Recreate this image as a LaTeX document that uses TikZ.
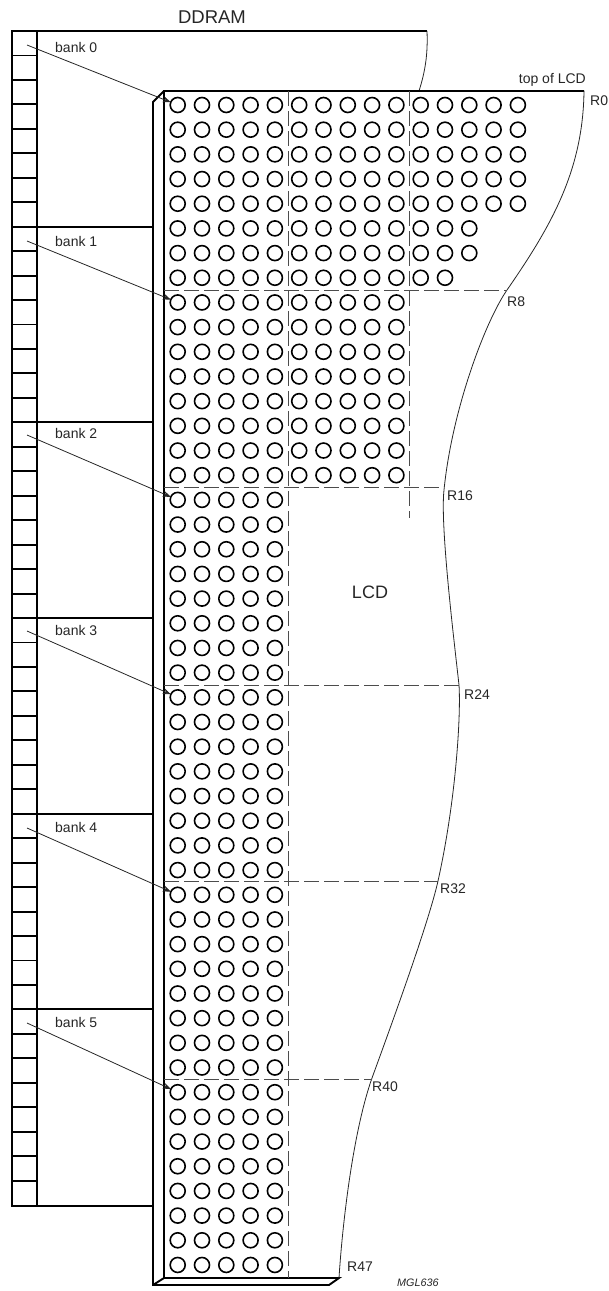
\documentclass[tikz,border=0pt]{standalone}
\usepackage{fontspec}
\usetikzlibrary{arrows.meta}
\setmainfont{Liberation Sans}
\tikzset{
  thickline/.style={line width=1.9pt},
  thinline/.style={line width=0.8pt, black!85},
  rowline/.style={line width=0.9pt, black!70, dash pattern=on 15pt off 5pt},
  dot/.style={circle, draw, line width=1.6pt, minimum size=15pt, inner sep=0pt, outer sep=0pt},
  lab/.style={font=\fontsize{14}{16}\selectfont, inner sep=0pt, text=black!85},
  banklink/.style={thinline, -{Stealth[length=8pt,width=6pt]}}
}
\begin{document}
\begin{tikzpicture}[
  x=1pt,
  y=-1pt
]
\useasboundingbox (0,0) rectangle (609,1291);

% DDRAM column
\draw[thickline] (427,31) -- (12,31) -- (12,1206) -- (153,1206);
\draw[thickline] (37,31) -- (37,1206);
\foreach \r in {1,...,47} {
  \draw[thickline] (12,{31+24.46*\r}) -- (37,{31+24.46*\r});
}
\foreach \r in {8,16,...,40} {
  \draw[thickline] (37,{31+24.46*\r}) -- (153,{31+24.46*\r});
}
\draw[thinline] (427,31) .. controls (428,55) and (425,72) .. (419,91);

% LCD frame
\draw[thickline] (584,91) -- (164,91) -- (164,1278) -- (339,1278) -- (329,1285) -- (153,1285) -- (153,102) -- (164,91);
\draw[thickline] (153,1285) -- (164,1278);
\draw[thinline] (584,91) .. controls (583,170) and (552,225) .. (507,290)
  .. controls (485,322) and (452,410) .. (444,490)
  .. controls (440,525) and (454,640) .. (459,685)
  .. controls (461,715) and (456,800) .. (438,881)
  .. controls (429,921) and (395,1015) .. (372,1078)
  .. controls (352,1135) and (342,1230) .. (339,1278);

% dots per group of rows
\foreach \first/\last/\n in {0/4/14,5/6/12,7/7/11,8/15/9,16/47/4} {
  \foreach \r in {\first,...,\last} {
    \foreach \c in {0,...,\n} {
      \node[dot] (d\r-\c) at ({177.7+24.3*\c},{105+24.68*\r}) {};
    }
  }
}

% dashed dividers
\coordinate (v1a) at (288,91);
\coordinate (v1b) at (288,1278);
\coordinate (v2a) at (409,91);
\coordinate (v2b) at (409,518);
\draw[rowline] (v1a) -- (v1b);
\draw[rowline] (v2a) -- (v2b);
\foreach \y/\xend/\name in {290/507/r8,487/443/r16,685/459/r24,881/438/r32,1079/372/r40} {
  \coordinate (\name a) at (164,\y);
  \coordinate (\name b) at (\xend,\y);
  \draw[rowline] (\name a) -- (\name b);
}

% banks
\foreach \i/\y/\ly in {0/45/47,1/241/241,2/435/433,3/631/630,4/828/827,5/1023/1022} {
  \pgfmathtruncatemacro{\rw}{8*\i}
  \coordinate (b\i) at (27,\y);
  \draw[banklink] (b\i) -- (d\rw-0);
  \node[lab, anchor=west] (bank\i) at (55,\ly) {bank \i};
}

\node[lab, font=\fontsize{18.5}{20}\selectfont] (ddram) at (212,17) {DDRAM};
\node[lab, font=\fontsize{18}{20}\selectfont] (lcd) at (370,592) {LCD};
\node[lab, anchor=east] (top) at (586,80) {top of LCD};
\foreach \x/\y/\label in {590/101/R0,507/302/R8,447/496/R16,464/695/R24,440/889/R32,372/1087/R40,347/1267/R47} {
  \node[lab, anchor=west] (\label) at (\x,\y) {\label};
}
\node[lab, anchor=west, font=\fontsize{10.8}{12}\selectfont\itshape] (mgl) at (397,1283) {MGL636};
\end{tikzpicture}
\end{document}
